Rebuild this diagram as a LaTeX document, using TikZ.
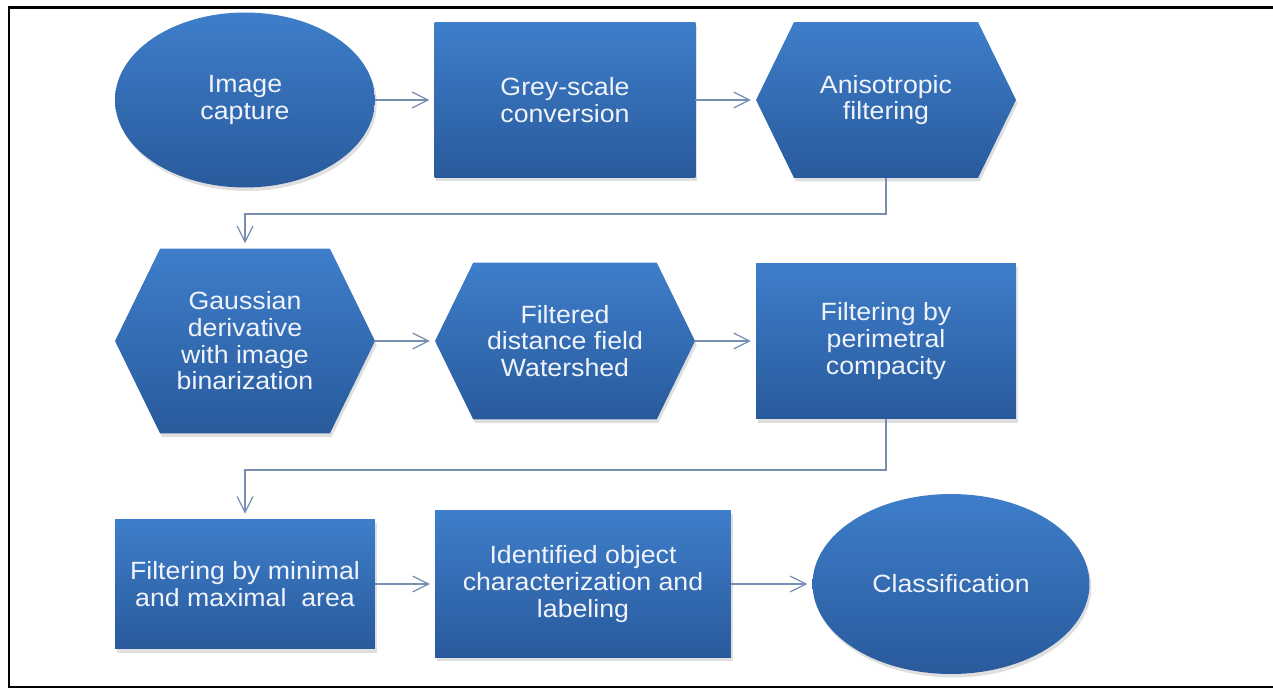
\documentclass[tikz,border=0pt]{standalone}
\usepackage{fontspec}
\setmainfont{Liberation Sans}[FakeStretch=1.07]
\usepackage{tikz}
\usetikzlibrary{arrows.meta,shadows,shapes.geometric,shapes.symbols}

\definecolor{kastenoben}{RGB}{62,126,202}
\definecolor{kastenunten}{RGB}{41,90,156}
\definecolor{schrift}{RGB}{240,244,250}
\definecolor{linie}{RGB}{118,142,175}

\begin{document}
\begin{tikzpicture}[
    x=0.02cm, y=-0.02cm,
    knoten/.style={
      top color=kastenoben,
      bottom color=kastenunten,
      draw=none,
      text=schrift,
      align=center,
      font=\fontsize{14.2}{15.2}\selectfont,
      inner sep=0pt,
      outer sep=0pt,
      drop shadow={shadow xshift=1pt, shadow yshift=-2pt, opacity=.25}},
    oval/.style={knoten, ellipse},
    kasten/.style={knoten, rectangle},
    sechseck/.style={knoten, signal, signal to=west and east, signal pointer angle=128},
    pfeil/.style={color=linie, line width=.7pt, -{Straight Barb[length=9pt,width=9pt]}, shorten >=3pt}
    ]

  \useasboundingbox (0,0) rectangle (1273,692);
  \draw [line width=1.4pt] (1273,7.5) -- (9,7.5) -- (9,687) -- (1273,687);

  \node at (245,100) (knotenCapture) [oval, minimum width=5.2cm, minimum height=3.5cm] {Image\\capture};
  \node at (565,100) (knotenGrey) [kasten, minimum width=5.22cm, minimum height=3.1cm] {Grey-scale\\conversion};
  \node at (886,100) (knotenAniso) [sechseck, minimum width=5.2cm, minimum height=3.12cm] {Anisotropic\\filtering};

  \node at (245,341) (knotenGauss) [sechseck, minimum width=5.2cm, minimum height=3.7cm] {Gaussian\\derivative\\with image\\binarization};
  \node at (565,341) (knotenDistance) [sechseck, minimum width=5.2cm, minimum height=3.14cm] {Filtered\\distance field\\Watershed};
  \node at (886,341) (knotenPerimeter) [kasten, minimum width=5.2cm, minimum height=3.12cm] {Filtering by\\perimetral\\compacity};

  \node at (245,584) (knotenArea) [kasten, minimum width=5.2cm, minimum height=2.6cm] {Filtering by minimal\\and maximal~ area};
  \node at (583,584) (knotenLabel) [kasten, minimum width=5.92cm, minimum height=2.94cm] {Identified object\\characterization and\\labeling};
  \node at (951,584) (knotenClass) [oval, minimum width=5.54cm, minimum height=3.6cm] {Classification};

  \path [pfeil] (knotenCapture.east) edge [] (knotenGrey.west);
  \path [pfeil] (knotenGrey.east) edge [] (knotenAniso.west);
  \draw [pfeil] (knotenAniso.south) -- ++(0,36) -| (knotenGauss.north);
  \path [pfeil] (knotenGauss.east) edge [] (knotenDistance.west);
  \path [pfeil] (knotenDistance.east) edge [] (knotenPerimeter.west);
  \draw [pfeil] (knotenPerimeter.south) -- ++(0,51) -| (knotenArea.north);
  \path [pfeil] (knotenArea.east) edge [] (knotenLabel.west);
  \path [pfeil] (knotenLabel.east) edge [] (knotenClass.west);

\end{tikzpicture}
\end{document}
